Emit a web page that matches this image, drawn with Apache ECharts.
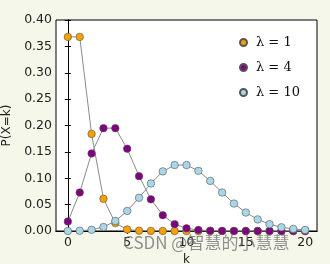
<!DOCTYPE html>
<html><head><meta charset="utf-8">
<script src="https://cdn.jsdelivr.net/npm/echarts@6/dist/echarts.min.js"></script>
<style>html,body{margin:0;padding:0;background:#f4f7ea;}#c{width:330px;height:264px;}</style>
</head><body><div id="c"></div>
<script>
var kValues = [0,1,2,3,4,5,6,7,8,9,10,11,12,13,14,15,16,17,18,19,20];
var seriesNames = ['\u03bb = 1','\u03bb = 4','\u03bb = 10'];
var lambda1 = [0.368,0.368,0.184,0.061,0.015,0.003,0.0005,0.0001,0,0,0,0,0,0,0,0,0,0,0,0,0];
var lambda4 = [0.018,0.073,0.147,0.195,0.195,0.156,0.104,0.060,0.030,0.013,0.005,0.002,0.0006,0.0002,0,0,0,0,0,0,0];
var lambda10 = [0.00005,0.0005,0.0023,0.0076,0.019,0.038,0.063,0.090,0.113,0.125,0.125,0.114,0.095,0.073,0.052,0.035,0.022,0.013,0.007,0.004,0.002];
var xTicks = [0,5,10,15,20];
var yTicks = [0,0.05,0.10,0.15,0.20,0.25,0.30,0.35,0.40];
var colors = ['#f7a000','#800080','#a8d8e8'];

function pairs(vals){ return kValues.map(function(k,i){ return [k, vals[i]]; }); }
var allData = [lambda1, lambda4, lambda10];

var chart = echarts.init(document.getElementById('c'), null, {renderer:'canvas'});
var tickStyle = {show:true, inside:true, length:3, lineStyle:{color:'#000', width:1}};
chart.setOption({
  backgroundColor:'#f4f7ea',
  animation:false,
  grid:{left:56, top:20, right:13, bottom:33, outerBoundsMode:'none', containLabel:false, show:true, backgroundColor:'#ffffff', borderColor:'#000', borderWidth:1},
  xAxis:[{
    type:'value', min:-1, max:21,
    axisLine:{show:true, lineStyle:{color:'#000'}},
    axisTick:Object.assign({customValues:xTicks}, tickStyle),
    axisLabel:{customValues:xTicks, color:'#222', fontSize:12.5, fontFamily:'DejaVu Sans', margin:5},
    splitLine:{show:false},
    name:'k', nameLocation:'middle', nameGap:19, nameTextStyle:{color:'#222', fontSize:12, fontFamily:'DejaVu Sans'}
  },{
    type:'value', min:-1, max:21, position:'top',
    axisLine:{show:true, lineStyle:{color:'#000'}},
    axisTick:Object.assign({customValues:xTicks}, tickStyle),
    axisLabel:{show:false}, splitLine:{show:false}
  }],
  yAxis:[{
    type:'value', min:0, max:0.4, interval:0.05,
    axisLine:{show:true, lineStyle:{color:'#000'}},
    axisTick:tickStyle,
    axisLabel:{color:'#222', fontSize:12.5, fontFamily:'DejaVu Sans', margin:4, formatter:function(v){return v.toFixed(2);}},
    splitLine:{show:false},
    name:'P(X=k)', nameLocation:'middle', nameGap:41, nameRotate:90,
    nameTextStyle:{color:'#222', fontSize:12, fontFamily:'DejaVu Sans'}
  },{
    type:'value', min:0, max:0.4, interval:0.05, position:'right',
    axisLine:{show:true, lineStyle:{color:'#000'}},
    axisTick:tickStyle, axisLabel:{show:false}, splitLine:{show:false}
  }],
  legend:{
    orient:'vertical', left:234, top:31, itemWidth:7, itemHeight:7, itemGap:12,
    icon:'circle',
    data:seriesNames,
    textStyle:{fontFamily:'DejaVu Serif', fontSize:13, color:'#111', padding:[0,0,0,4]}
  },
  series: seriesNames.map(function(n,i){
    return {
      name:n, type:'line', data:pairs(allData[i]), z:2+i,
      symbol:'circle', symbolSize:7.5,
      lineStyle:{color:'#8a8a8a', width:1},
      itemStyle:{color:colors[i], borderColor:'#555', borderWidth:0.6},
      emphasis:{disabled:true}
    };
  }),
  graphic:[{
    type:'text', left:123, top:234, z:100,
    style:{text:'CSDN @\u667a\u6167\u7684\u5c0f\u6167\u6167', fill:'rgba(110,110,110,0.75)', fontSize:17, fontFamily:'Noto Sans CJK SC'}
  }]
});
</script></body></html>
